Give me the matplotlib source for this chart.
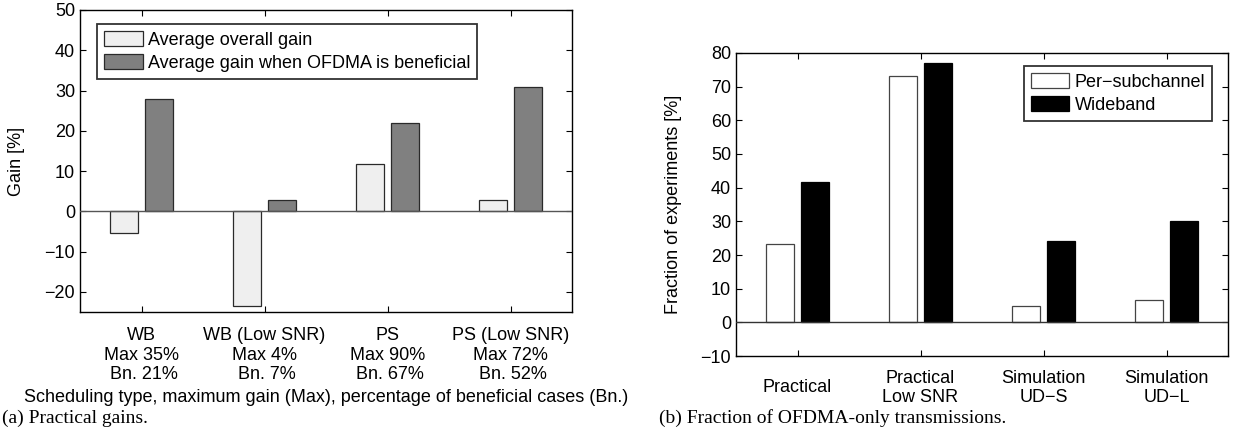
import matplotlib
matplotlib.use("Agg")
import matplotlib.pyplot as plt
import numpy as np

# ---------------- data ----------------
sched_types = ["WB", "WB (Low SNR)", "PS", "PS (Low SNR)"]
max_gain = [35, 4, 90, 72]
beneficial = [21, 7, 67, 52]
avg_overall_gain = [-5.5, -23.4, 11.8, 2.9]
avg_gain_beneficial = [27.8, 2.9, 22.0, 30.9]
legend_a = ["Average overall gain", "Average gain when OFDMA is beneficial"]

scenarios = ["Practical", "Practical\nLow SNR", "Simulation\nUD\u2212S", "Simulation\nUD\u2212L"]
per_subchannel = [23.2, 73.1, 4.9, 6.5]
wideband = [41.8, 77.0, 24.1, 30.0]
legend_b = ["Per\u2212subchannel", "Wideband"]

caption_a = "(a) Practical gains."
caption_b = "(b) Fraction of OFDMA-only transmissions."

# ---------------- style ----------------
plt.rcParams['font.family'] = ['Liberation Sans', 'DejaVu Sans']
FS = 13
W, H = 1237, 440
fig = plt.figure(figsize=(W / 100, H / 100), dpi=100)

def px_axes(l, t, r, b):
    return [l / W, 1 - b / H, (r - l) / W, (b - t) / H]

ax1 = fig.add_axes(px_axes(80, 10, 572, 312))
ax2 = fig.add_axes(px_axes(736, 53, 1228, 356))

off, bw = 0.143, 0.229

def style_axes(ax):
    for s in ax.spines.values():
        s.set_linewidth(1.0)
        s.set_color('black')
    ax.tick_params(axis='both', direction='in', length=4, width=0.8,
                   top=True, right=True, labelsize=FS, colors='black')
    ax.set_xlim(0.5, 4.5)

leg_kw = dict(borderaxespad=0, fontsize=FS, frameon=True, fancybox=False,
              handlelength=2.15, handleheight=0.9, handletextpad=0.28,
              labelspacing=0.3, borderpad=0.38)

# ---------------- panel (a) ----------------
x = np.arange(1, len(sched_types) + 1)
ax1.bar(x - off, avg_overall_gain, bw, color='#efefef', edgecolor='#2a2a2a',
        linewidth=0.9, label=legend_a[0], zorder=2)
ax1.bar(x + off, avg_gain_beneficial, bw, color='#808080', edgecolor='#2a2a2a',
        linewidth=0.9, label=legend_a[1], zorder=2)
ax1.axhline(0, color='#555555', linewidth=1.0, zorder=3)
style_axes(ax1)
ax1.set_ylim(-25, 50)
ax1.set_yticks(np.arange(-20, 51, 10))
ax1.set_xticks(x)
ax1.set_xticklabels([f"{t}\nMax {m}%\n Bn. {b}%" for t, m, b in
                     zip(sched_types, max_gain, beneficial)],
                    linespacing=1.2, ha='center')
ax1.tick_params(axis='x', pad=11)
ax1.set_ylabel("Gain [%]", fontsize=FS, va='center')
ax1.yaxis.set_label_coords((17 - 80) / 492, 0.5)
ax1.set_xlabel("Scheduling type, maximum gain (Max), percentage of beneficial cases (Bn.)",
               fontsize=FS)
ax1.xaxis.label.set_va('center')
ax1.xaxis.set_label_coords(0.5, -(397 - 312) / 302)
leg1 = ax1.legend(loc='upper left', bbox_to_anchor=(0.0346, 0.9536), **leg_kw)
leg1.get_frame().set_edgecolor('black')
leg1.get_frame().set_linewidth(1.3)

# ---------------- panel (b) ----------------
x2 = np.arange(1, len(scenarios) + 1)
ax2.bar(x2 - off, per_subchannel, bw, color='white', edgecolor='#444444',
        linewidth=0.9, label=legend_b[0], zorder=2)
ax2.bar(x2 + off, wideband, bw, color='black', edgecolor='black',
        linewidth=0.9, label=legend_b[1], zorder=2)
ax2.axhline(0, color='#333333', linewidth=1.0, zorder=3)
style_axes(ax2)
ax2.set_ylim(-10, 80)
ax2.set_yticks(np.arange(-10, 81, 10))
ax2.set_xticks(x2)
ax2.set_xticklabels(scenarios, linespacing=1.2, ha='center', va='center')
ax2.tick_params(axis='x', pad=23)
ax2.set_ylabel("Fraction of experiments [%]", fontsize=FS, va='center')
ax2.yaxis.set_label_coords((673 - 736) / 492, 0.5)
leg2 = ax2.legend(loc='upper right', bbox_to_anchor=(0.9675, 0.957), **leg_kw)
leg2.get_frame().set_edgecolor('black')
leg2.get_frame().set_linewidth(1.3)

# ---------------- captions ----------------
fig.text(2 / W, 1 - 418 / H, caption_a, fontsize=14, family=['Liberation Serif'],
         va='center', ha='left')
fig.text(659 / W, 1 - 418 / H, caption_b, fontsize=14, family=['Liberation Serif'],
         va='center', ha='left')

fig.savefig("out.png", dpi=100)
